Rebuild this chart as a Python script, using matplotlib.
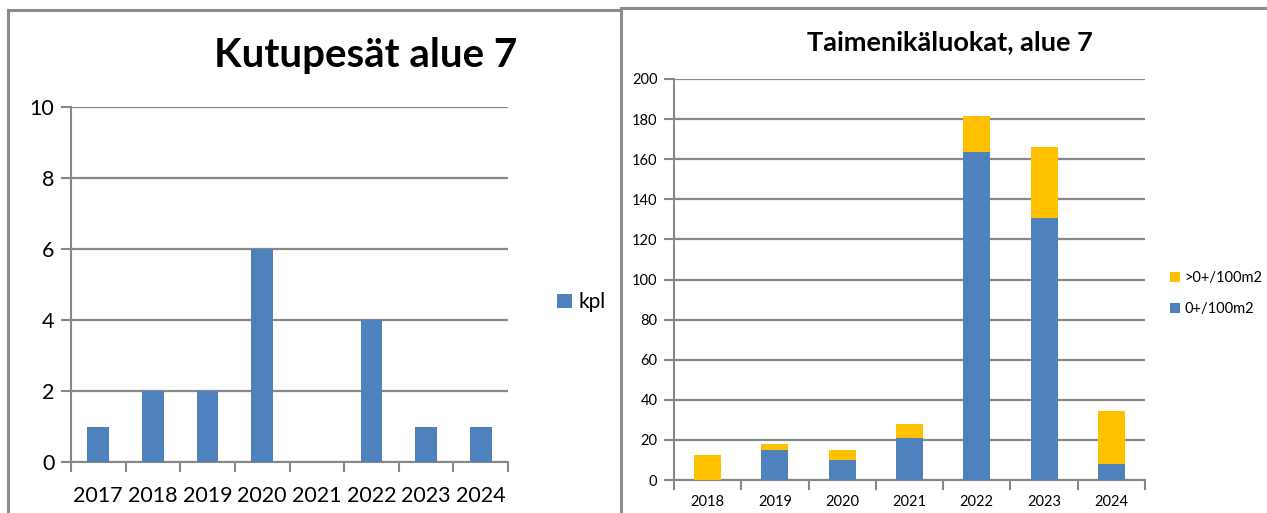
import matplotlib.pyplot as plt
from matplotlib.lines import Line2D
import numpy as np

plt.rcParams['font.family'] = ['Lato', 'DejaVu Sans']

# left chart: spawning nests
nest_years = ['2017', '2018', '2019', '2020', '2021', '2022', '2023', '2024']
nest_count = [1, 2, 2, 6, 0, 4, 1, 1]

# right chart: trout age classes
trout_years = ['2018', '2019', '2020', '2021', '2022', '2023', '2024']
young_0 = [0, 15, 10, 21, 163.5, 130.5, 8]        # 0+/100m2
older = [12.6, 3.2, 5, 6.7, 18.2, 35.5, 26.6]     # >0+/100m2

BLUE = '#4F81BD'
ORANGE = '#FFC000'
GRID = '#888888'
W, H = 1267, 513

fig = plt.figure(figsize=(W / 100, H / 100), dpi=100)


def px_axes(x0, y0, x1, y1):
    return fig.add_axes([x0 / W, 1 - y1 / H, (x1 - x0) / W, (y1 - y0) / H])


def style_axes(ax, n, ymax, step, fs, pad):
    ax.set_xlim(-0.5, n - 0.5)
    ax.set_ylim(0, ymax)
    ax.set_yticks(np.arange(0, ymax + 1, step))
    ax.set_xticks(np.arange(-0.5, n, 1), minor=True)
    ax.tick_params(axis='x', which='major', length=0, labelsize=fs, pad=pad)
    ax.tick_params(axis='x', which='minor', length=7, width=1.5, color=GRID)
    ax.tick_params(axis='y', length=7, width=1.5, color=GRID, labelsize=fs, pad=5)
    for s in ['top', 'right']:
        ax.spines[s].set_visible(False)
    for s in ['left', 'bottom']:
        ax.spines[s].set_color(GRID)
        ax.spines[s].set_linewidth(1.5)
    ax.yaxis.grid(True, color=GRID, linewidth=1.6)
    ax.set_axisbelow(True)


# left panel
ax1 = px_axes(71, 107, 508, 462)
x1 = np.arange(len(nest_years))
ax1.bar(x1, nest_count, width=0.4, color=BLUE, label='kpl', zorder=3)
ax1.set_xticks(x1)
ax1.set_xticklabels(nest_years)
style_axes(ax1, len(nest_years), 10, 2, 15.5, 17)
fig.text(366 / W, 1 - 56 / H, 'Kutupesät alue 7', fontsize=29, fontweight='bold',
         ha='center', va='center')
ax1.legend(loc='center left', bbox_to_anchor=(1.07, 0.45), frameon=False,
           fontsize=15, handlelength=0.7, handleheight=0.7, handletextpad=0.3)

# right panel
ax2 = px_axes(674, 79, 1145, 480)
x2 = np.arange(len(trout_years))
ax2.bar(x2, young_0, width=0.4, color=BLUE, label='0+/100m2', zorder=3)
ax2.bar(x2, older, width=0.4, bottom=young_0, color=ORANGE, label='>0+/100m2', zorder=3)
ax2.set_xticks(x2)
ax2.set_xticklabels(trout_years)
style_axes(ax2, len(trout_years), 200, 20, 10.5, 11)
fig.text(950 / W, 1 - 42 / H, 'Taimenikäluokat, alue 7', fontsize=19.5, fontweight='bold',
         ha='center', va='center')
handles, labels = ax2.get_legend_handles_labels()
ax2.legend(handles[::-1], labels[::-1], loc='center left', bbox_to_anchor=(1.025, 0.465),
           frameon=False, fontsize=10.5, handlelength=0.7, handleheight=0.7,
           handletextpad=0.3, labelspacing=1.2)

# panel borders
border = dict(color='#8c8c8c', linewidth=2.2, transform=fig.transFigure)
fig.add_artist(Line2D([8 / W, 8 / W], [0, 1 - 10 / H], **border))
fig.add_artist(Line2D([8 / W, 621 / W], [1 - 10 / H, 1 - 10 / H], **border))
fig.add_artist(Line2D([621 / W, 621 / W], [0, 1 - 10 / H], **border))
fig.add_artist(Line2D([621 / W, 1], [1 - 8 / H, 1 - 8 / H], **border))

fig.savefig('out.png', dpi=100)
